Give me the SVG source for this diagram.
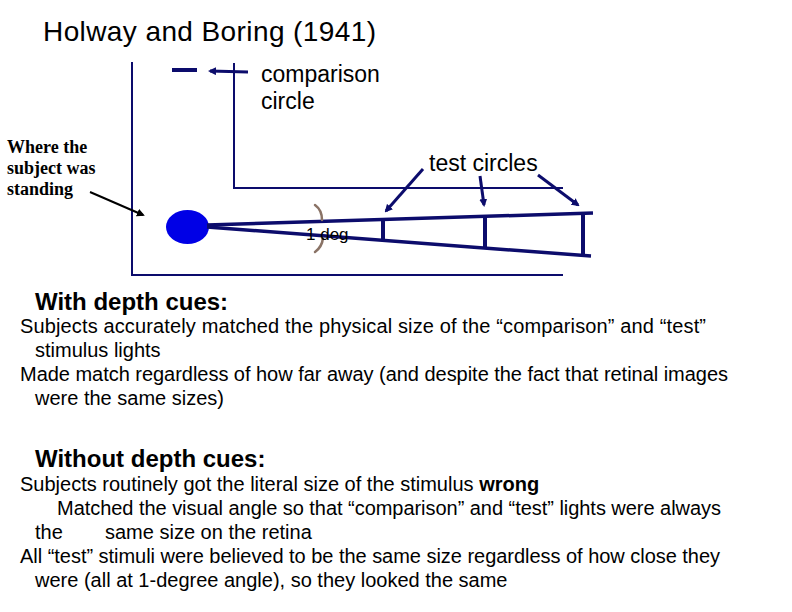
<svg xmlns="http://www.w3.org/2000/svg" width="792" height="612" viewBox="0 0 792 612">
<style>
.sans{font-family:"Liberation Sans",Arial,sans-serif;fill:#000}
.serif{font-family:"Liberation Serif","Times New Roman",serif;fill:#000;font-weight:bold;font-size:18px}
.body{font-size:20px}
.head{font-size:24px;font-weight:bold}
.nv{stroke:#0c0c6c;fill:none}
.br{stroke:#8a7366;fill:none;stroke-width:2.5;stroke-linecap:round}
</style>
<defs>
<marker id="ah" markerWidth="8" markerHeight="8" refX="6" refY="4" orient="auto" markerUnits="userSpaceOnUse" viewBox="0 0 8 8">
<path d="M0,0 L8,4 L0,8 z" fill="#0c0c6c"/>
</marker>
<marker id="ahk" markerWidth="8" markerHeight="8" refX="6" refY="4" orient="auto" markerUnits="userSpaceOnUse" viewBox="0 0 8 8">
<path d="M0,0 L8,4 L0,8 z" fill="#000"/>
</marker>
</defs>
<rect width="792" height="612" fill="#fff"/>
<text class="sans" x="43" y="41" font-size="28" textLength="333">Holway and Boring (1941)</text>

<g id="frame">
<path class="nv" stroke-width="2" d="M132,62 V275 H563"/>
<path class="nv" stroke-width="2" d="M234,63 V188 H563"/>
</g>

<g id="comparison">
<line class="nv" stroke-width="4" x1="172" y1="70" x2="197" y2="70"/>
<text class="sans" x="261" y="82" font-size="23">comparison</text>
<text class="sans" x="261" y="109" font-size="23">circle</text>
</g>

<g id="subject">
<ellipse cx="187.5" cy="227" rx="21.5" ry="17" fill="#0000e6"/>
<text class="serif" x="7" y="153">Where the</text>
<text class="serif" x="7" y="174">subject was</text>
<text class="serif" x="7" y="195">standing</text>
</g>

<g id="cone">
<line class="nv" stroke-width="3.5" x1="207" y1="225" x2="593" y2="213"/>
<line class="nv" stroke-width="3.5" x1="207" y1="227" x2="591" y2="256"/>
<line class="nv" stroke-width="4" x1="383" y1="220" x2="383" y2="241"/>
<line class="nv" stroke-width="4" x1="485" y1="216" x2="485" y2="249"/>
<line class="nv" stroke-width="4" x1="583" y1="213" x2="583" y2="256"/>
<path class="br" d="M315,205 Q322,210 322,220"/>
<path class="br" d="M315,252 Q322,247 323,238"/>
<text class="sans" x="306" y="240" font-size="17">1 deg</text>
</g>

<g id="test">
<text class="sans" x="429" y="171" font-size="23">test circles</text>
</g>

<g id="connectors">
<line class="nv" stroke-width="3" x1="248" y1="72" x2="210" y2="71" marker-end="url(#ah)"/>
<line stroke="#000" stroke-width="2" x1="90" y1="192" x2="143" y2="215" marker-end="url(#ahk)"/>
<line class="nv" stroke-width="3" x1="423" y1="169" x2="386" y2="211" marker-end="url(#ah)"/>
<line class="nv" stroke-width="3" x1="480" y1="176" x2="484" y2="205" marker-end="url(#ah)"/>
<line class="nv" stroke-width="3" x1="538" y1="175" x2="578" y2="205" marker-end="url(#ah)"/>
</g>

<g id="notes">
<text class="sans head" x="35" y="310">With depth cues:</text>
<text class="sans body" x="20" y="333" textLength="686">Subjects accurately matched the physical size of the “comparison” and “test”</text>
<text class="sans body" x="35" y="357">stimulus lights</text>
<text class="sans body" x="20" y="381" textLength="708">Made match regardless of how far away (and despite the fact that retinal images</text>
<text class="sans body" x="35" y="405">were the same sizes)</text>

<text class="sans head" x="35" y="467">Without depth cues:</text>
<text class="sans body" x="20" y="491">Subjects routinely got the literal size of the stimulus <tspan font-weight="bold">wrong</tspan></text>
<text class="sans body" x="57" y="515" textLength="664">Matched the visual angle so that “comparison” and “test” lights were always</text>
<text class="sans body" x="35" y="539">the</text>
<text class="sans body" x="105" y="539">same size on the retina</text>
<text class="sans body" x="20" y="563" textLength="700">All “test” stimuli were believed to be the same size regardless of how close they</text>
<text class="sans body" x="35" y="587">were (all at 1-degree angle), so they looked the same</text>
</g>
</svg>
